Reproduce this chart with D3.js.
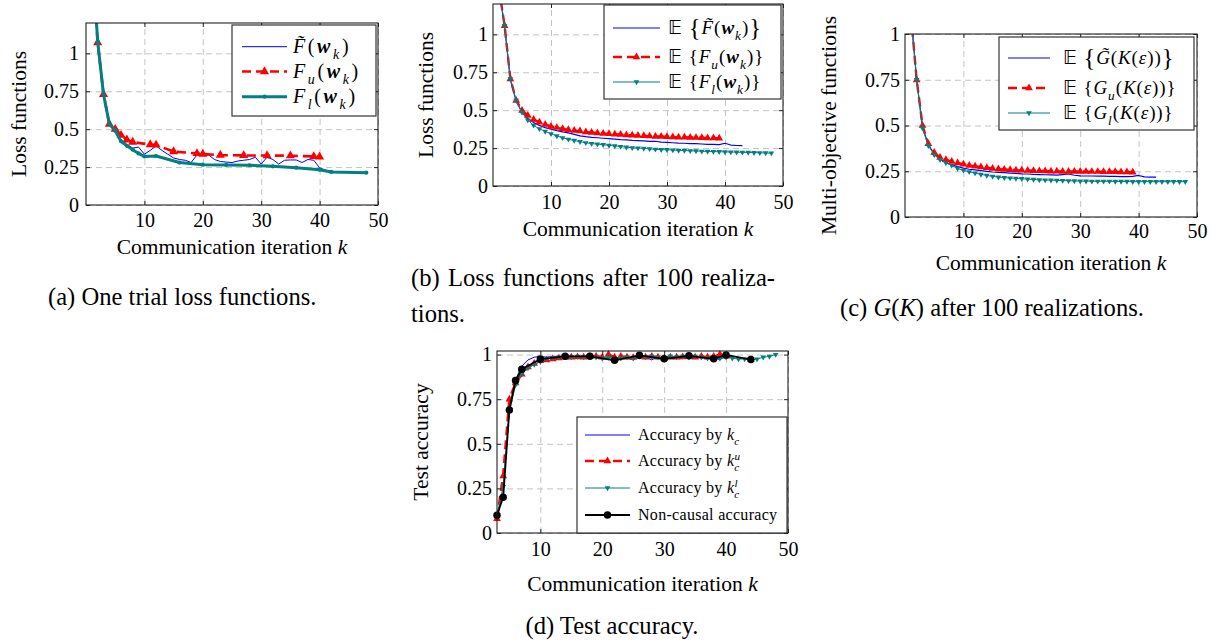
<!DOCTYPE html>
<html><head><meta charset="utf-8">
<script src="https://cdn.jsdelivr.net/npm/d3@7"></script>
<style>
body{margin:0;background:#fff}
svg{display:block}
text{font-family:"Liberation Serif","Times New Roman",serif;fill:#000}
</style></head><body>
<svg id="c" width="1226" height="643"></svg>
<script>
// ================= DATA =================
const xTicks = [10,20,30,40,50];
const yTicks = [0,0.25,0.5,0.75,1];

// (a) one trial
const aBlueX = [1,2,3,4,5,6,7,8,9,10,11,12,13,14,15,16,17,18,19,20,21,22,23,24,25,26,27,28,29,30,31,32,33,34,35,36,37,38,39,40,41,42,43];
const aBlueY = [1.69,1.077,0.73,0.534,0.49,0.43,0.40,0.375,0.382,0.335,0.36,0.39,0.36,0.335,0.31,0.30,0.295,0.28,0.33,0.33,0.33,0.30,0.287,0.283,0.28,0.29,0.295,0.30,0.315,0.27,0.315,0.30,0.27,0.295,0.297,0.297,0.28,0.30,0.295,0.245,0.23,0.222,0.22];
const aRedX = [1,2,3,4,5,6,7,8,11,12,15,19,20,23,27,31,35,39,40];
const aRedY = [1.69,1.07,0.73,0.534,0.50,0.46,0.43,0.415,0.398,0.396,0.352,0.34,0.336,0.329,0.327,0.326,0.325,0.32,0.318];
const aTealX = [1,2,3,4,5,6,7,8,9,10,12,16,20,24,28,32,36,40,42,48];
const aTealY = [1.69,1.077,0.73,0.534,0.49,0.42,0.39,0.365,0.34,0.32,0.323,0.28,0.266,0.264,0.262,0.255,0.246,0.233,0.218,0.213];

// (b) loss functions, 100 realizations
const bBlueX = [1,2,3,4,5,6,7,8,9,10,11,12,13,14,15,16,17,18,19,20,21,22,23,24,25,26,27,28,29,30,31,32,33,34,35,36,37,38,39,40,41,42,43];
const bBlueY = [1.31,1.05,0.70,0.56,0.485,0.445,0.418,0.40,0.385,0.375,0.365,0.357,0.35,0.34,0.33,0.325,0.321,0.318,0.315,0.312,0.309,0.306,0.304,0.301,0.299,0.297,0.294,0.295,0.289,0.287,0.285,0.283,0.282,0.28,0.279,0.277,0.275,0.274,0.273,0.282,0.27,0.267,0.266];
const bRedX = [1,2,3,4,5,6,7,8,9,10,11,12,13,14,15,16,17,18,19,20,21,22,23,24,25,26,27,28,29,30,31,32,33,34,35,36,37,38,39];
const bRedY = [1.31,1.057,0.706,0.564,0.498,0.465,0.438,0.42,0.405,0.393,0.385,0.377,0.371,0.366,0.362,0.356,0.353,0.349,0.346,0.344,0.341,0.339,0.336,0.334,0.333,0.331,0.329,0.327,0.326,0.325,0.323,0.322,0.321,0.32,0.319,0.318,0.317,0.316,0.315];
const bTealX = [1,2,3,4,5,6,7,8,9,10,11,12,13,14,15,16,17,18,19,20,21,22,23,24,25,26,27,28,29,30,31,32,33,34,35,36,37,38,39,40,41,42,43,44,45,46,47,48];
const bTealY = [1.31,1.057,0.706,0.564,0.485,0.435,0.40,0.377,0.36,0.344,0.33,0.318,0.308,0.30,0.292,0.285,0.28,0.276,0.272,0.268,0.264,0.26,0.256,0.252,0.25,0.248,0.245,0.242,0.24,0.239,0.237,0.235,0.234,0.232,0.231,0.229,0.228,0.227,0.226,0.225,0.224,0.223,0.222,0.221,0.22,0.219,0.218,0.217];

// (c) G(K), 100 realizations
const cBlueX = [1,2,3,4,5,6,7,8,9,10,11,12,13,14,15,16,17,18,19,20,21,22,23,24,25,26,27,28,29,30,31,32,33,34,35,36,37,38,39,40,41,42,43];
const cBlueY = [1.11,0.749,0.49,0.395,0.345,0.316,0.298,0.285,0.275,0.267,0.261,0.257,0.253,0.249,0.246,0.244,0.242,0.24,0.238,0.236,0.235,0.233,0.232,0.231,0.23,0.229,0.232,0.235,0.228,0.225,0.224,0.224,0.223,0.223,0.222,0.222,0.221,0.221,0.222,0.227,0.219,0.218,0.218];
const cRedX = [1,2,3,4,5,6,7,8,9,10,11,12,13,14,15,16,17,18,19,20,21,22,23,24,25,26,27,28,29,30,31,32,33,34,35,36,37,38,39];
const cRedY = [1.11,0.749,0.50,0.40,0.352,0.325,0.313,0.303,0.295,0.288,0.282,0.277,0.273,0.269,0.265,0.262,0.26,0.258,0.256,0.255,0.254,0.253,0.252,0.251,0.25,0.25,0.249,0.249,0.249,0.249,0.248,0.248,0.248,0.247,0.247,0.247,0.246,0.246,0.245];
const cTealX = [1,2,3,4,5,6,7,8,9,10,11,12,13,14,15,16,17,18,19,20,21,22,23,24,25,26,27,28,29,30,31,32,33,34,35,36,37,38,39,40,41,42,43,44,45,46,47,48];
const cTealY = [1.11,0.75,0.485,0.39,0.34,0.313,0.295,0.282,0.265,0.255,0.247,0.24,0.233,0.227,0.222,0.218,0.215,0.213,0.211,0.209,0.207,0.205,0.203,0.202,0.201,0.2,0.199,0.198,0.197,0.196,0.196,0.195,0.195,0.195,0.195,0.194,0.194,0.194,0.193,0.193,0.193,0.193,0.193,0.193,0.193,0.193,0.193,0.193];

// (d) test accuracy
const dBlueX = [3,4,5,6,7,8,9,10,11,12,13,14,15,16,17,18,19,20,21,22,23,24,25,26,27,28,29,30,31,32,33,34,35,36,37,38,39,40,41];
const dBlueY = [0.1,0.22,0.7,0.86,0.935,0.97,0.985,0.99,0.985,0.99,0.99,0.99,0.985,0.99,0.99,0.99,0.985,0.975,0.985,0.975,0.99,0.985,0.97,0.99,0.985,0.97,0.99,0.97,0.99,0.985,0.99,0.985,0.99,0.985,0.99,0.985,0.97,0.995,0.99];
const dRedX = [3,4,5,6,7,8,9,10,11,12,13,14,15,16,17,18,19,20,21,22,23,24,25,26,27,28,29,30,31,32,33,34,35,36,37,38,39,40];
const dRedY = [0.08,0.32,0.75,0.84,0.89,0.93,0.95,0.965,0.97,0.975,0.98,0.985,0.985,0.987,0.985,0.99,0.99,0.985,1.0,0.985,0.99,0.985,0.983,0.99,0.985,0.99,0.985,0.98,0.985,0.985,0.987,0.99,0.985,0.99,0.985,0.99,1.0,0.99];
const dTealX = [3,4,5,6,7,8,9,10,11,12,13,14,15,16,17,18,19,20,21,22,23,24,25,26,27,28,29,30,31,32,33,34,35,36,37,38,39,40,41,42,43,44,45,46,47,48];
const dTealY = [0.1,0.26,0.68,0.83,0.89,0.925,0.945,0.96,0.975,0.98,0.985,0.99,0.985,0.99,0.985,0.99,0.985,0.98,0.985,0.975,0.98,0.985,0.98,0.99,0.985,0.99,0.985,0.98,0.99,0.985,0.99,0.985,0.99,0.985,0.98,0.985,0.98,0.985,0.98,0.975,0.975,0.97,0.975,0.985,0.99,1.0];
const dBlackX = [3,4,5,6,7,10,14,18,22,26,30,34,38,40,44];
const dBlackY = [0.1,0.2,0.69,0.855,0.918,0.975,0.99,0.99,0.968,0.996,0.976,0.993,0.976,0.998,0.972];

// ================= DRAWING =================
const svg = d3.select('#c');
const FONT = '"Liberation Serif","Times New Roman",serif';
const BB = '"DejaVu Sans","DejaVu Serif",sans-serif';
const BLUE = '#0000ff', RED = '#ff0000', TEAL = '#008080', BLACK = '#000000';

function rich(parent, x, y, segs, size, anchor, ls) {
  const t = parent.append('text').attr('x', x).attr('y', y).attr('font-size', size);
  if (anchor) t.attr('text-anchor', anchor);
  if (ls) t.attr('letter-spacing', ls);
  let off = 0;
  for (const s of segs) {
    const ts = t.append('tspan').text(s.t);
    const fs = (s.sub || s.sup) ? size * 0.7 : s.big ? size * 1.3 : size;
    if (fs !== size) ts.attr('font-size', fs);
    const target = s.sub ? size * 0.28 : s.sup ? -size * 0.4 : s.big ? size * 0.08 : 0;
    if (target !== off) { ts.attr('dy', target - off); off = target; }
    if (s.dx) ts.attr('dx', s.dx);
    if (s.i) ts.attr('font-style', 'italic');
    if (s.b) ts.attr('font-weight', 'bold');
    if (s.f) ts.attr('font-family', s.f);
  }
  return t;
}
// stretch inter-word spaces of a justified caption line
function justify(t, target, spaces) {
  const w = t.node().getComputedTextLength();
  t.attr('word-spacing', (target - w) / spaces);
}

const W_K = [{t:'('},{t:'w',i:1,b:1},{t:'k',i:1,sub:1},{t:')'}];
const KE = [{t:'('},{t:'K',i:1},{t:'('},{t:'ε',i:1},{t:'))'}];
const E = [{t:'𝔼',f:BB},{t:' '}];

const mTri = {type: d3.symbolTriangle, size: 36};
const mTriS = {type: d3.symbolTriangle, size: 26};
const mDown = {type: d3.symbolTriangle, size: 14, rot: 1};
const mDot = {type: d3.symbolCircle, size: 14};
const mCirc = {type: d3.symbolCircle, size: 44};

const panels = [
  {id:'a', L:86, R:378, T:23, B:205, xd:[0,50], yd:[0,1.2], xPad:7.5, yPad:7,
   ylab:'Loss functions', ylabX:25.5, xlabY:254,
   legend:{x0:232, y0:25, x1:376, y1:116, sx0:242, sx1:287, tx:293, ys:[46.7,71.5,96.7], size:20, ls:2.6},
   series:[
     {x:aBlueX, y:aBlueY, color:BLUE, width:1, label:[{t:'F\u0303',i:1},...W_K]},
     {x:aRedX, y:aRedY, color:RED, width:2.6, dash:'9,5', mark:mTri, label:[{t:'F',i:1},{t:'u',i:1,sub:1},...W_K]},
     {x:aTealX, y:aTealY, color:TEAL, width:3, mark:mDot, label:[{t:'F',i:1},{t:'l',i:1,sub:1},...W_K]}
   ]},
  {id:'b', L:493, R:783, T:4, B:186, xd:[0,50], yd:[0,1.2], xPad:8.5, yPad:5,
   ylab:'Loss functions', ylabX:433, xlabY:236,
   legend:{x0:604, y0:5, x1:781, y1:99, sx0:613, sx1:660, tx:668, ys:[28,57,82], size:19, ls:1},
   series:[
     {x:bBlueX, y:bBlueY, color:BLUE, width:1.2, label:[...E,{t:'{',big:1},{t:'F\u0303',i:1},...W_K,{t:'}',big:1}]},
     {x:bRedX, y:bRedY, color:RED, width:2.4, dash:'9,5', mark:mTriS, label:[...E,{t:'{'},{t:'F',i:1},{t:'u',i:1,sub:1},...W_K,{t:'}'}]},
     {x:bTealX, y:bTealY, color:TEAL, width:1, mark:mDown, label:[...E,{t:'{'},{t:'F',i:1},{t:'l',i:1,sub:1},...W_K,{t:'}'}]}
   ]},
  {id:'c', L:905, R:1197, T:34, B:217, xd:[0,50], yd:[0,1], xPad:7, yPad:5,
   ylab:'Multi-objective functions', ylabX:836, xlabY:269.5,
   legend:{x0:999, y0:37, x1:1194, y1:130, sx0:1008, sx1:1050, tx:1063, ys:[58,88,113], size:19, ls:0.9},
   series:[
     {x:cBlueX, y:cBlueY, color:BLUE, width:1.2, label:[...E,{t:'{',big:1},{t:'G\u0303',i:1},...KE,{t:'}',big:1}]},
     {x:cRedX, y:cRedY, color:RED, width:2.4, dash:'9,5', mark:mTriS, label:[...E,{t:'{'},{t:'G',i:1},{t:'u',i:1,sub:1},...KE,{t:'}'}]},
     {x:cTealX, y:cTealY, color:TEAL, width:1, mark:mDown, label:[...E,{t:'{'},{t:'G',i:1},{t:'l',i:1,sub:1},...KE,{t:'}'}]}
   ]},
  {id:'d', L:497, R:788, T:351, B:533, xd:[3,50], yd:[0,1.02], xPad:9, yPad:5,
   ylab:'Test accuracy', ylabX:428, xlabY:591,
   legend:{x0:577, y0:417, x1:787, y1:533, sx0:585, sx1:630, tx:638, ys:[435,461,488,515], size:16, ls:0.3},
   series:[
     {x:dBlueX, y:dBlueY, color:BLUE, width:1, label:[{t:'Accuracy by '},{t:'k',i:1},{t:'c',i:1,sub:1}]},
     {x:dRedX, y:dRedY, color:RED, width:2.6, dash:'9,5', mark:mTriS, label:[{t:'Accuracy by '},{t:'k',i:1},{t:'c',i:1,sub:1},{t:'u',i:1,sup:1,dx:-5}]},
     {x:dTealX, y:dTealY, color:TEAL, width:1, mark:mDown, label:[{t:'Accuracy by '},{t:'k',i:1},{t:'c',i:1,sub:1},{t:'l',i:1,sup:1,dx:-5}]},
     {x:dBlackX, y:dBlackY, color:BLACK, width:1.8, mark:mCirc, label:[{t:'Non-causal accuracy'}]}
   ]}
];

function drawPanel(p) {
  const g = svg.append('g');
  const x = d3.scaleLinear().domain(p.xd).range([p.L, p.R]);
  const y = d3.scaleLinear().domain(p.yd).range([p.B, p.T]);
  const W = p.R - p.L, H = p.B - p.T;
  const gridStyle = s => { s.select('.domain').remove(); s.selectAll('line').attr('stroke', '#c4c4c4').attr('stroke-width', 1).attr('stroke-dasharray', '6,4'); };
  g.append('g').attr('transform', `translate(0,${p.B})`)
    .call(d3.axisBottom(x).tickValues(xTicks).tickSize(-H).tickFormat('')).call(gridStyle);
  g.append('g').attr('transform', `translate(${p.L},0)`)
    .call(d3.axisLeft(y).tickValues(yTicks).tickSize(-W).tickFormat('')).call(gridStyle);

  const cid = 'clip' + p.id;
  svg.append('clipPath').attr('id', cid).append('rect')
    .attr('x', p.L).attr('y', p.T).attr('width', W).attr('height', H);
  const line = d3.line().x(d => x(d[0])).y(d => y(d[1]));
  const markPath = m => d3.symbol(m.type, m.size)();
  p.series.forEach(s => {
    const pts = s.x.map((v, i) => [v, s.y[i]]);
    g.append('path').datum(pts).attr('d', line).attr('fill', 'none')
      .attr('stroke', s.color).attr('stroke-width', s.width)
      .attr('stroke-dasharray', s.dash || null).attr('stroke-linejoin', 'round')
      .attr('clip-path', `url(#${cid})`);
    if (s.mark) {
      g.append('g').selectAll('path').data(pts.filter(d => d[1] <= p.yd[1])).join('path')
        .attr('transform', d => `translate(${x(d[0])},${y(d[1])})` + (s.mark.rot ? ' rotate(180)' : ''))
        .attr('d', markPath(s.mark)).attr('fill', s.color);
    }
  });

  g.append('rect').attr('x', p.L).attr('y', p.T).attr('width', W).attr('height', H)
    .attr('fill', 'none').attr('stroke', '#222').attr('stroke-width', 1.1);

  const tickStyle = s => {
    s.attr('font-family', FONT).attr('font-size', 20);
    s.select('.domain').remove();
    s.selectAll('line').attr('stroke', '#222');
    s.selectAll('text').attr('fill', '#000');
  };
  g.append('g').attr('transform', `translate(0,${p.B})`)
    .call(d3.axisBottom(x).tickValues(xTicks).tickSize(-4).tickPadding(p.xPad).tickFormat(d3.format('d'))).call(tickStyle);
  g.append('g').attr('transform', `translate(0,${p.T})`)
    .call(d3.axisTop(x).tickValues(xTicks).tickSize(-4).tickFormat('')).call(tickStyle);
  g.append('g').attr('transform', `translate(${p.L},0)`)
    .call(d3.axisLeft(y).tickValues(yTicks).tickSize(-4).tickPadding(p.yPad).tickFormat(d => String(d))).call(tickStyle);
  g.append('g').attr('transform', `translate(${p.R},0)`)
    .call(d3.axisRight(y).tickValues(yTicks).tickSize(-4).tickFormat('')).call(tickStyle);

  // axis labels
  const xl = g.append('text').attr('x', (p.L + p.R) / 2).attr('y', p.xlabY)
    .attr('text-anchor', 'middle').attr('font-size', 21.5);
  xl.append('tspan').text('Communication iteration ');
  xl.append('tspan').attr('font-style', 'italic').text('k');
  g.append('text').attr('transform', `translate(${p.ylabX},${(p.T + p.B) / 2}) rotate(-90)`)
    .attr('text-anchor', 'middle').attr('font-size', 21.5).text(p.ylab);

  // legend
  const lg = p.legend;
  const lgG = g.append('g');
  lgG.append('rect').attr('x', lg.x0).attr('y', lg.y0).attr('width', lg.x1 - lg.x0).attr('height', lg.y1 - lg.y0)
    .attr('fill', '#fff').attr('stroke', '#222').attr('stroke-width', 1.1);
  p.series.forEach((s, i) => {
    const yy = lg.ys[i];
    lgG.append('line').attr('x1', lg.sx0).attr('x2', lg.sx1).attr('y1', yy).attr('y2', yy)
      .attr('stroke', s.color).attr('stroke-width', s.width).attr('stroke-dasharray', s.dash || null);
    if (s.mark) lgG.append('path').attr('transform', `translate(${(lg.sx0 + lg.sx1) / 2},${yy})` + (s.mark.rot ? ' rotate(180)' : ''))
      .attr('d', markPath(s.mark)).attr('fill', s.color);
    rich(lgG, lg.tx, yy + lg.size * 0.33, s.label, lg.size, null, lg.ls);
  });
}
panels.forEach(drawPanel);

// captions
const CAP = 24.6;
rich(svg, 48, 305, [{t:'(a) One trial loss functions.'}], CAP);
const b1 = rich(svg, 411, 286, [{t:'(b) Loss functions after 100 realiza-'}], CAP);
justify(b1, 364, 5);
rich(svg, 411, 322, [{t:'tions.'}], CAP);
rich(svg, 840, 316, [{t:'(c) '},{t:'G',i:1},{t:'('},{t:'K',i:1},{t:')'},{t:' after 100 realizations.'}], CAP);
rich(svg, 612, 634, [{t:'(d) Test accuracy.'}], CAP, 'middle');
</script></body></html>
